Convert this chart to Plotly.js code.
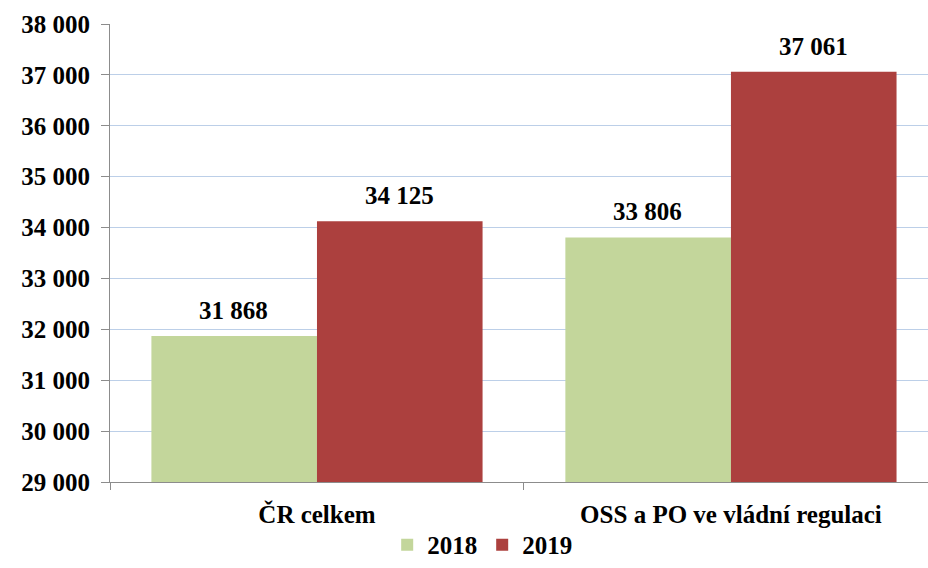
<!DOCTYPE html>
<html>
<head>
<meta charset="utf-8">
<script src="https://cdn.plot.ly/plotly-3.0.1.min.js"></script>
<style>html,body{margin:0;padding:0;background:#fff;}#chart{width:928px;height:568px;}</style>
</head>
<body>
<div id="chart"></div>
<script>
var categories = ["ČR celkem", "OSS a PO ve vládní regulaci"];
var seriesNames = ["2018", "2019"];
var values2018 = [31868, 33806];
var values2019 = [34125, 37061];
var colors = ["#c3d69b", "#ac403e"];

function fmt(v){ return String(v).replace(/\B(?=(\d{3})+(?!\d))/g, " "); }

var FAMILY = "Liberation Serif";
function mkFont(size){ return {family: FAMILY, size: size, color: "#000000"}; }

var allSeries = [values2018, values2019];
var traces = allSeries.map(function(vals, i){
  return {
    type: "bar",
    name: "<b>" + seriesNames[i] + "</b>",
    x: categories,
    y: vals,
    marker: {color: colors[i]},
    hoverinfo: "none"
  };
});

var annotations = [];
allSeries.forEach(function(vals, i){
  vals.forEach(function(v, j){
    annotations.push({
      x: categories[j], y: v, xref: "x", yref: "y",
      xshift: (i === 0 ? -83 : 83),
      yshift: 10,
      yanchor: "bottom",
      text: "<b>" + fmt(v) + "</b>",
      showarrow: false,
      font: mkFont(25),
      bgcolor: "#fff"
    });
  });
});

var layout = {
  width: 928, height: 568,
  margin: {l: 110, r: 0, t: 24, b: 86},
  paper_bgcolor: "#fff", plot_bgcolor: "#fff",
  separators: ", ",
  barmode: "group",
  bargap: 0.2,
  bargroupgap: 0,
  annotations: annotations,
  xaxis: {
    range: [-0.5, 1.476],
    automargin: false,
    showline: true, linecolor: "#8c8c8c", linewidth: 1,
    ticks: "outside", tickson: "boundaries", ticklen: 7, tickcolor: "#8c8c8c",
    ticklabelstandoff: 10,
    tickfont: mkFont(25),
    tickprefix: "<b>", ticksuffix: "</b>",
    showgrid: false, zeroline: false,
    fixedrange: true
  },
  yaxis: {
    range: [29000, 38000],
    automargin: false,
    dtick: 1000,
    tickformat: ",d",
    tickprefix: "<b>", ticksuffix: "</b>",
    showline: true, linecolor: "#8c8c8c", linewidth: 1,
    ticks: "outside", ticklen: 8, tickcolor: "#8c8c8c",
    ticklabelstandoff: 6,
    tickfont: mkFont(25),
    showgrid: true, gridcolor: "#bccfe8", gridwidth: 1,
    zeroline: false,
    fixedrange: true
  },
  showlegend: true,
  legend: {
    orientation: "h",
    x: 0.455, xanchor: "center",
    y: -0.1875, yanchor: "bottom",
    font: mkFont(25),
    itemwidth: 30,
    traceorder: "normal"
  }
};

Plotly.newPlot("chart", traces, layout, {displayModeBar: false, staticPlot: true});
</script>
</body>
</html>
